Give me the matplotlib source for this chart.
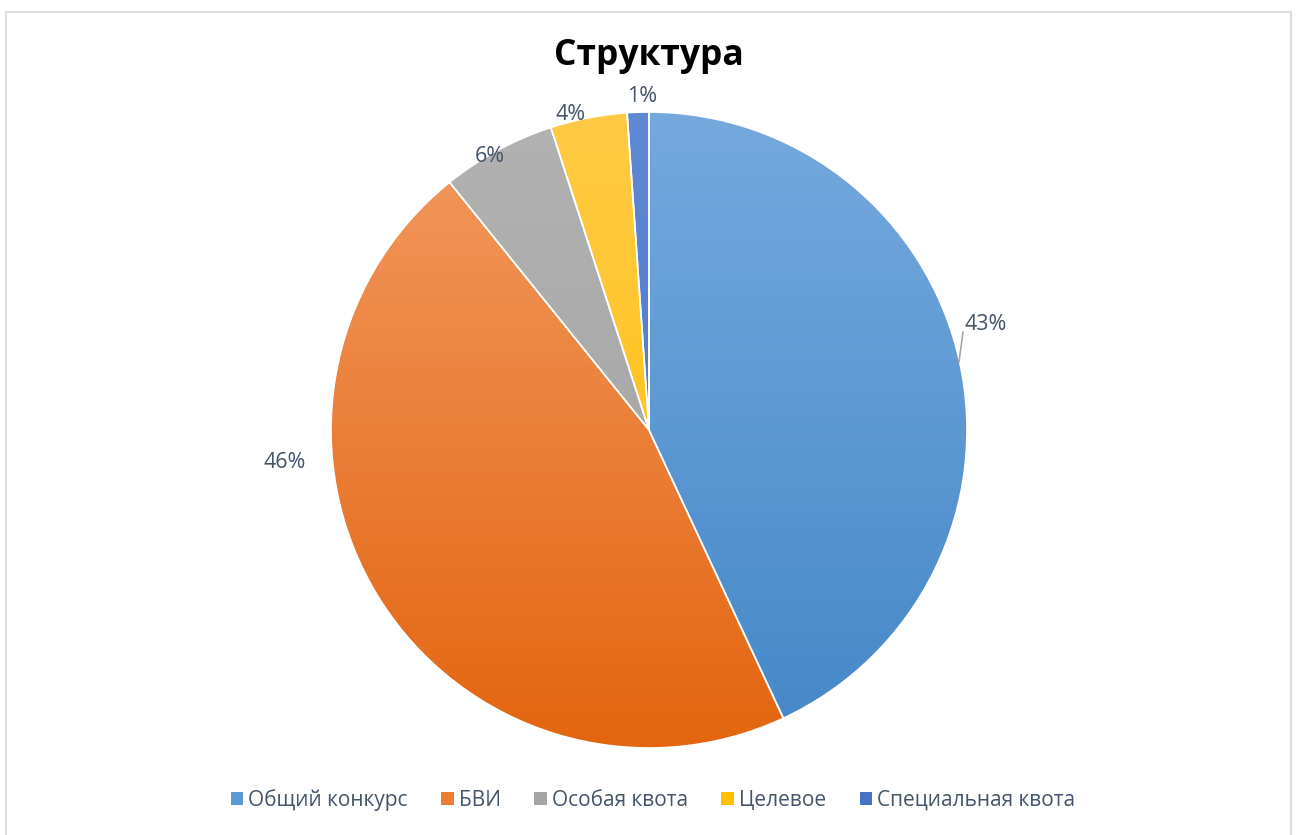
import numpy as np
import matplotlib as mpl
import matplotlib.pyplot as plt
from matplotlib.colors import LinearSegmentedColormap
from matplotlib.patches import Rectangle, Patch

mpl.use('Agg')
plt.rcParams['font.family'] = ['Open Sans', 'DejaVu Sans']

# данные
kategorii = ['Общий конкурс', 'БВИ', 'Особая квота', 'Целевое', 'Специальная квота']
doli = [43.1, 46.2, 5.8, 3.9, 1.1]
metki = ['43%', '46%', '6%', '4%', '1%']

# цвета (верх / низ градиента)
verh = ['#75a9de', '#f39a62', '#b2b2b2', '#ffca45', '#6089d4']
niz = ['#4487c8', '#e3650f', '#a0a0a0', '#ffbf00', '#4270c4']
sred = ['#5b9bd5', '#ed7d31', '#a5a5a5', '#ffc000', '#4472c4']

W, H = 1299, 835
fig = plt.figure(figsize=(W / 100, H / 100), dpi=100)
ax = fig.add_axes([0, 0, 1, 1])

cx, cy, R = 649, H - 430, 318

wedges, _ = ax.pie(doli, center=(cx, cy), radius=R, startangle=90,
                   counterclock=False, frame=True,
                   wedgeprops=dict(edgecolor='white', linewidth=1.2))
ax.set_xlim(0, W)
ax.set_ylim(0, H)
ax.set_aspect('auto')
ax.axis('off')

grad = np.linspace(1, 0, 256).reshape(-1, 1)
for w, c1, c2 in zip(wedges, verh, niz):
    w.set_facecolor('none')
    cmap = LinearSegmentedColormap.from_list('g', [c2, c1])
    im = ax.imshow(grad, cmap=cmap, extent=(cx - R, cx + R, cy - R, cy + R),
                   aspect='auto', zorder=1, origin='upper')
    im.set_clip_path(w)
    w.set_zorder(2)

# подписи
tcol = '#44546a'
poz = [(986, 325), (285, 462), (490, 157), (571, 115), (642, 96)]
for m, (x, y) in zip(metki, poz):
    ax.text(x, H - y, m, ha='center', va='center', fontsize=15.5, color=tcol)
ax.plot([963, 959], [H - 332, H - 362], color='#a6a6a6', lw=1.2)

ax.text(649, H - 56, 'Структура', ha='center', va='center', fontsize=25.5,
        fontweight='bold', color='black')

# рамка
ax.add_patch(Rectangle((6, -10), 1285, H - 6 + 10 - 6, fill=False,
                       edgecolor='#dcdfe4', lw=1.5, zorder=5))

hand = [Patch(facecolor=c, edgecolor='none') for c in sred]
leg = ax.legend(hand, kategorii, loc='center', bbox_to_anchor=(653 / W, 1 - 800 / H),
                ncol=5, frameon=False, fontsize=15, handlelength=0.6,
                handleheight=0.6, handletextpad=0.25, columnspacing=1.6)
for t in leg.get_texts():
    t.set_color(tcol)

fig.savefig('out.png', dpi=100)
